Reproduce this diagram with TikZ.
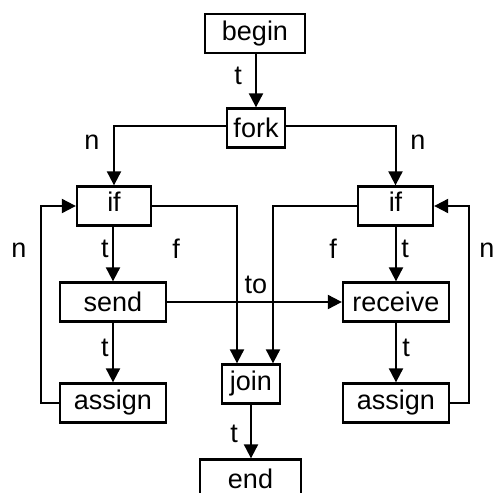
\documentclass[tikz,border=0pt]{standalone}
\usepackage{fontspec}
\setmainfont{Liberation Sans}
\usetikzlibrary{arrows.meta}
\begin{document}
\begin{tikzpicture}[x=1pt,y=-1pt,line width=2pt,
  box/.style={draw,line width=2.3pt,inner sep=0pt,minimum height=39pt,font=\fontsize{27}{32}\selectfont},
  lbl/.style={inner sep=0pt,font=\fontsize{27}{32}\selectfont},
  arr/.style={-{Triangle[length=14pt,width=14pt]}}]
\useasboundingbox (0,0) rectangle (496,493);
\clip (0,0) rectangle (496,493);
% boxes
\node[box,minimum width=100pt] (begin) at (255,33.5) {begin};
\node[box,minimum width=58pt] (fork) at (256,128) {fork};
\node[box,minimum width=74pt,text depth=8pt] (ifL) at (114,206) {if};
\node[box,minimum width=75pt,text depth=8pt] (ifR) at (395.5,206) {if};
\node[box,minimum width=106pt] (send) at (113,302) {send};
\node[box,minimum width=106pt] (receive) at (396,302) {receive};
\node[box,minimum width=106pt] (assignL) at (113,403) {assign};
\node[box,minimum width=106pt] (assignR) at (396,403) {assign};
\node[box,minimum width=58pt] (join) at (251,384) {join};
\node[box,minimum width=101pt] (end) at (250.5,479) {end};
\coordinate (lx) at (41,0);
\coordinate (rx) at (469,0);
% connectors
\draw[arr] (begin.south -| fork.north) -- (fork.north);
\draw[arr] ([yshift=2pt]fork.west) -| (ifL.north);
\draw[arr] ([yshift=2pt]fork.east) -| (ifR.north);
\draw[arr] (ifL.south -| send.north) -- (send.north);
\draw[arr] (send) -- (assignL);
\draw[arr] (ifR.south -| receive.north) -- (receive.north);
\draw[arr] (receive) -- (assignR);
\draw[arr] (send) -- (receive);
\draw[arr] (ifL.east) -| ([xshift=-14pt]join.north);
\draw[arr] (ifR.west) -| ([xshift=22pt]join.north);
\draw[arr] (assignL.west) -- (assignL.west -| lx) |- (ifL.west);
\draw[arr] (assignR.east) -- (assignR.east -| rx) |- (ifR.east);
\draw[arr] (join.south) -- (join.south |- end.north);
% labels
\node[lbl] (lt0) at (238,76) {t};
\node[lbl] (ln1) at (92,142) {n};
\node[lbl] (ln2) at (418,142) {n};
\node[lbl] (ln3) at (19,250) {n};
\node[lbl] (ln4) at (487,250) {n};
\node[lbl] (lt1) at (105,249) {t};
\node[lbl] (lf1) at (176,249) {f};
\node[lbl] (lf2) at (333,249) {f};
\node[lbl] (lt2) at (405,249) {t};
\node[lbl] (lto) at (256,285) {to};
\node[lbl] (lt3) at (105,348) {t};
\node[lbl] (lt4) at (406,348) {t};
\node[lbl] (lt5) at (234,434) {t};
\end{tikzpicture}
\end{document}
